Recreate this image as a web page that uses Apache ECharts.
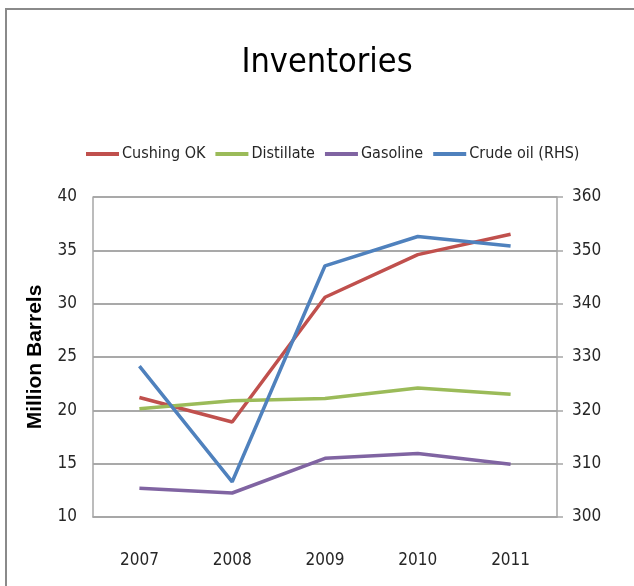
<!DOCTYPE html>
<html>
<head>
<meta charset="utf-8">
<script src="https://cdn.jsdelivr.net/npm/echarts@6/dist/echarts.min.js"></script>
<style>
html,body{margin:0;padding:0;background:#fff;}
#chart{width:634px;height:586px;}
</style>
</head>
<body>
<div id="chart"></div>
<script>
const years = ['2007', '2008', '2009', '2010', '2011'];
const cushing = [21.2, 18.9, 30.6, 34.6, 36.5];
const distillate = [20.15, 20.9, 21.1, 22.1, 21.5];
const gasoline = [12.7, 12.25, 15.5, 15.95, 14.95];
const crudeRHS = [328.3, 306.6, 347.1, 352.6, 350.8];
const seriesNames = ['Cushing OK', 'Distillate', 'Gasoline', 'Crude oil (RHS)'];
const colors = ['#C0504D', '#9BBB59', '#8064A2', '#4F81BD'];

const FONT = '"DejaVu Sans Condensed", "Liberation Sans Narrow", "Open Sans", sans-serif';
const chart = echarts.init(document.getElementById('chart'), null, {renderer: 'canvas'});

function mk(name, data, idx, yIdx) {
  return {
    name: name, type: 'line', data: data, yAxisIndex: yIdx,
    symbol: 'none', smooth: false,
    lineStyle: {color: colors[idx], width: 3.5},
    itemStyle: {color: colors[idx]},
    z: 3
  };
}

chart.setOption({
  animation: false,
  backgroundColor: '#fff',
  graphic: [{
    type: 'rect', shape: {x: 6, y: 9, width: 700, height: 700},
    style: {fill: 'none', stroke: '#8a8a8a', lineWidth: 2}, silent: true, z: 0
  }],
  title: {
    text: 'Inventories', left: 322, top: 41, textAlign: 'center',
    textStyle: {fontFamily: FONT, fontSize: 34, fontWeight: 'normal', color: '#000'}
  },
  legend: {
    left: 81, top: 141,
    itemWidth: 33, itemHeight: 4, itemGap: 10,
    icon: 'rect',
    textStyle: {fontFamily: FONT, fontSize: 16, color: '#262626', padding: [0, 0, 0, -2]},
    data: seriesNames
  },
  grid: {left: 93, right: 77, top: 197, bottom: 69, containLabel: false},
  xAxis: {
    type: 'category', data: years, boundaryGap: true,
    axisLine: {lineStyle: {color: '#a6a6a6', width: 1.5}},
    axisTick: {show: false},
    axisLabel: {fontFamily: FONT, fontSize: 17, color: '#262626', margin: 35}
  },
  yAxis: [{
    type: 'value', min: 10, max: 40, interval: 5, position: 'left',
    name: 'Million Barrels', nameLocation: 'middle', nameGap: 47, nameRotate: 90,
    nameTextStyle: {fontFamily: 'Liberation Sans, Arial, sans-serif', fontSize: 21, fontWeight: 'bold', color: '#000'},
    axisLine: {show: true, lineStyle: {color: '#a6a6a6', width: 1.5}},
    axisTick: {show: false},
    axisLabel: {fontFamily: FONT, fontSize: 17, color: '#262626', margin: 16},
    splitLine: {show: true, lineStyle: {color: '#8c8c8c', width: 1.5}}
  }, {
    type: 'value', min: 300, max: 360, interval: 10, position: 'right',
    axisLine: {show: true, lineStyle: {color: '#a6a6a6', width: 1.5}},
    axisTick: {show: true, length: 6, lineStyle: {color: '#a6a6a6', width: 1.5}},
    axisLabel: {fontFamily: FONT, fontSize: 17, color: '#262626', margin: 15},
    splitLine: {show: false}
  }],
  series: [
    mk(seriesNames[0], cushing, 0, 0),
    mk(seriesNames[1], distillate, 1, 0),
    mk(seriesNames[2], gasoline, 2, 0),
    mk(seriesNames[3], crudeRHS, 3, 1)
  ]
});
</script>
</body>
</html>
